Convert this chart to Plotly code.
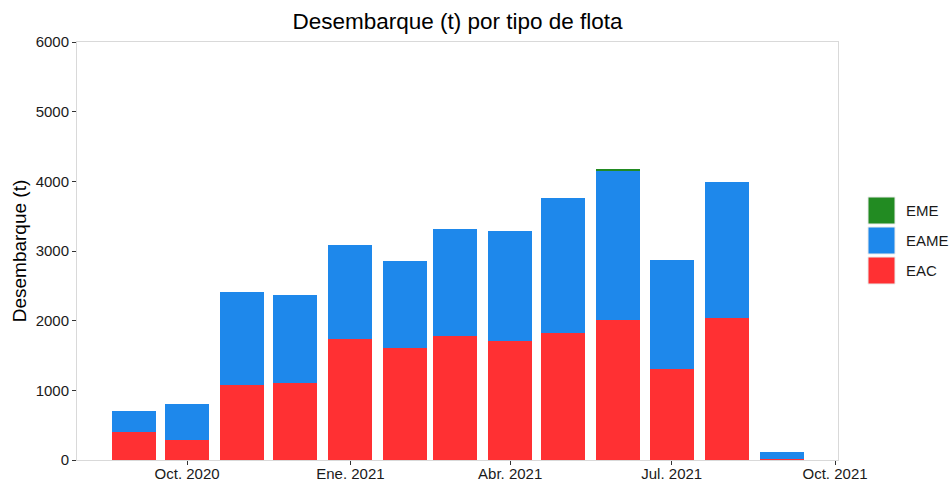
import plotly.graph_objects as go

months = ["2020-09-01", "2020-10-01", "2020-11-01", "2020-12-01", "2021-01-01", "2021-02-01",
          "2021-03-01", "2021-04-01", "2021-05-01", "2021-06-01", "2021-07-01", "2021-08-01",
          "2021-09-01"]
eac = [405, 290, 1070, 1100, 1730, 1610, 1780, 1710, 1830, 2010, 1300, 2040, 10]
eame = [298, 513, 1340, 1270, 1350, 1250, 1530, 1570, 1930, 2136, 1570, 1950, 100]
eme = [0, 0, 0, 0, 0, 0, 0, 0, 0, 30, 0, 0, 0]

series_names = ["EAC", "EAME", "EME"]
series_values = [eac, eame, eme]
series_colors = ["#FF3033", "#1E88EB", "#228B22"]

tick_vals = ["2020-10-01", "2021-01-01", "2021-04-01", "2021-07-01", "2021-10-01"]
tick_text = ["Oct. 2020", "Ene. 2021", "Abr. 2021", "Jul. 2021", "Oct. 2021"]

bar_width_ms = 24.8 * 86400000

W, H = 952, 482
PL, PR, PT, PB = 77, 838, 42, 460

fig = go.Figure()
for name, vals, col in zip(series_names, series_values, series_colors):
    fig.add_trace(go.Bar(x=months, y=vals, name=name, marker=dict(color=col, line=dict(width=0)),
                         width=bar_width_ms, showlegend=False))

# custom legend (top item first)
leg_x0, leg_y_top, box, step = 868, 197, 27, 30
for i, (name, col) in enumerate(reversed(list(zip(series_names, series_colors)))):
    y0 = leg_y_top + i * step
    fig.add_shape(type="rect", xref="paper", yref="paper",
                  x0=(leg_x0 - PL) / (PR - PL), x1=(leg_x0 + box - PL) / (PR - PL),
                  y0=(PB - (y0 + box)) / (PB - PT), y1=(PB - y0) / (PB - PT),
                  fillcolor=col, line=dict(color="#EBEBEB", width=1), layer="above")
    fig.add_annotation(xref="paper", yref="paper", x=(905 - 1 - PL) / (PR - PL),
                       y=(PB - (y0 + box / 2)) / (PB - PT), text=name, showarrow=False,
                       xanchor="left", yanchor="middle", font=dict(size=15, color="#1a1a1a"))

fig.update_layout(
    barmode="stack",
    width=W, height=H,
    margin=dict(l=PL, r=W - PR, t=PT, b=H - PB, autoexpand=False),
    paper_bgcolor="white", plot_bgcolor="white",
    font=dict(family="Liberation Sans, Arial, sans-serif", color="#1a1a1a"),
    title=dict(text="Desembarque (t) por tipo de flota", x=0.5, xref="paper", xanchor="center",
               y=1 - 21 / H, yref="container", yanchor="middle",
               font=dict(size=22.5, color="#000000")),
    bargap=0,
    xaxis=dict(type="date", range=["2020-07-31", "2021-10-02 16:00"], tickvals=tick_vals,
               ticktext=tick_text, ticks="outside", ticklen=4, tickcolor="#333333",
               tickfont=dict(size=15, color="#1a1a1a"), ticklabelstandoff=-4,
               showgrid=False, showline=True,
               linecolor="#D9D9D9", linewidth=1, mirror=True, zeroline=False, automargin=False),
    yaxis=dict(range=[0, 6000], tickvals=[0, 1000, 2000, 3000, 4000, 5000, 6000],
               ticks="outside", ticklen=4, tickcolor="#333333",
               tickfont=dict(size=15, color="#1a1a1a"), showgrid=False, showline=True,
               linecolor="#D9D9D9", linewidth=1, mirror=True, zeroline=False, automargin=False,
               title=dict(text="Desembarque (t)", font=dict(size=19, color="#000000"), standoff=3)),
)

fig.write_html("out.html", config={"displayModeBar": False},
               post_script="document.body.style.margin='0';")
